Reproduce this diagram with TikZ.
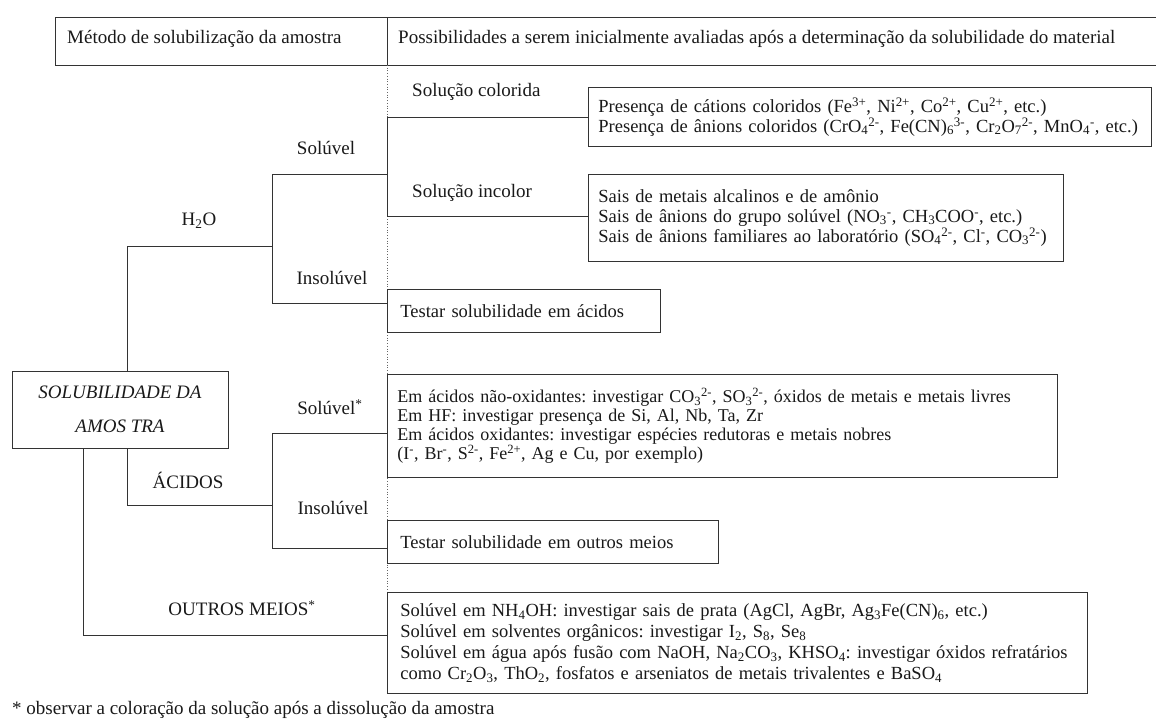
\documentclass[tikz,border=0pt]{standalone}
\usepackage{fontspec}
\setmainfont{Liberation Serif}
\frenchspacing
\begin{document}
\begin{tikzpicture}[x=1pt,y=-1pt,
  ln/.style={line width=0.8pt,draw=black!80},
  dotln/.style={line width=0.7pt,draw=black!60,dotted},
  txt/.style={font=\fontsize{19}{21}\selectfont,inner sep=0pt,text=black!90},
  lbl/.style={txt,anchor=center},
  infobox/.style={ln,fill=white,anchor=north west,align=left,inner xsep=10pt,inner ysep=0pt,
     font=\fontsize{18.5}{20}\selectfont,text=black!90}
]
\useasboundingbox (0,0) rectangle (1156,721);
% header
\coordinate (hTL) at (55,17);
\coordinate (hBL) at (55,65);
\coordinate (hTR) at (1156,17);
\coordinate (hBR) at (1156,65);
\coordinate (hDT) at (387,17);
\coordinate (hDB) at (387,65);
\draw[ln] (hTR) -- (hTL) -- (hBL) -- (hBR);
\draw[ln] (hDT) -- (hDB);
\node[txt,anchor=west] (hmet) at (67,39) {Método de solubilização da amostra};
\node[txt,anchor=west] (hpos) at (398,39) {Possibilidades a serem inicialmente avaliadas após a determinação da solubilidade do material};
% dotted separator
\coordinate (dotEnd) at (387,592);
\draw[dotln] (hDB) -- (dotEnd);

% root
\node[ln,fill=white,minimum width=216pt,minimum height=77pt,inner sep=0pt,align=center,
  font=\fontsize{19}{34}\selectfont\itshape,text=black!90] (root) at (120,409.5)
  {SOLUBILIDADE DA\\AMOS TRA};

% branch coordinates
\coordinate (h2oL) at (127,246);
\coordinate (h2oR) at (272,246);
\coordinate (sol1) at (272,174);
\coordinate (ins1) at (272,303);
\coordinate (splitT) at (387,117);
\coordinate (splitB) at (387,216);
\coordinate (acL) at (127,505);
\coordinate (acR) at (272,505);
\coordinate (sol2) at (272,433);
\coordinate (ins2) at (272,548);
\coordinate (ouL) at (83,635);

% boxes
\node[infobox,minimum width=563pt,minimum height=59pt,text width=543pt] (bcol) at (588,87)
 {Presença de cátions coloridos (Fe\textsuperscript{3+}, Ni\textsuperscript{2+}, Co\textsuperscript{2+}, Cu\textsuperscript{2+}, etc.)\\
  Presença de ânions coloridos (CrO\textsubscript{4}\textsuperscript{2-}, Fe(CN)\textsubscript{6}\textsuperscript{3-}, Cr\textsubscript{2}O\textsubscript{7}\textsuperscript{2-}, MnO\textsubscript{4}\textsuperscript{-}, etc.)};
\node[infobox,minimum width=475pt,minimum height=87pt,text width=455pt] (binc) at (588,174)
 {Sais de metais alcalinos e de amônio\\
  Sais de ânions do grupo solúvel (NO\textsubscript{3}\textsuperscript{-}, CH\textsubscript{3}COO\textsuperscript{-}, etc.)\\
  Sais de ânions familiares ao laboratório (SO\textsubscript{4}\textsuperscript{2-}, Cl\textsuperscript{-}, CO\textsubscript{3}\textsuperscript{2-})};
\node[infobox,minimum width=273pt,minimum height=43pt,inner xsep=13pt,text width=247pt] (btac) at (387,289)
 {Testar solubilidade em ácidos};
\node[infobox,minimum width=670pt,minimum height=103pt,text width=650pt,font=\fontsize{18}{19}\selectfont] (bacid) at (387,374)
 {Em ácidos não-oxidantes: investigar CO\textsubscript{3}\textsuperscript{2-}, SO\textsubscript{3}\textsuperscript{2-}, óxidos de metais e metais livres\\
  Em HF: investigar presença de Si, Al, Nb, Ta, Zr\\
  Em ácidos oxidantes: investigar espécies redutoras e metais nobres\\
  (I\textsuperscript{-}, Br\textsuperscript{-}, S\textsuperscript{2-}, Fe\textsuperscript{2+}, Ag e Cu, por exemplo)};
\node[infobox,minimum width=331pt,minimum height=43pt,inner xsep=13pt,text width=305pt] (btou) at (387,520)
 {Testar solubilidade em outros meios};
\node[infobox,minimum width=700pt,minimum height=101pt,inner xsep=13pt,text width=674pt,font=\fontsize{18.5}{21}\selectfont] (bout) at (387,592)
 {Solúvel em NH\textsubscript{4}OH: investigar sais de prata (AgCl, AgBr, Ag\textsubscript{3}Fe(CN)\textsubscript{6}, etc.)\\
  Solúvel em solventes orgânicos: investigar I\textsubscript{2}, S\textsubscript{8}, Se\textsubscript{8}\\
  Solúvel em água após fusão com NaOH, Na\textsubscript{2}CO\textsubscript{3}, KHSO\textsubscript{4}: investigar óxidos refratários\\
  como Cr\textsubscript{2}O\textsubscript{3}, ThO\textsubscript{2}, fosfatos e arseniatos de metais trivalentes e BaSO\textsubscript{4}};

% connectors
\draw[ln] (root.north -| h2oL) -- (h2oL) -- (h2oR);
\draw[ln] (sol1) -- (ins1);
\draw[ln] (sol1) -- (sol1 -| splitT);
\draw[ln] (splitT) -- (splitB);
\draw[ln] (splitT) -- (splitT -| bcol.west);
\draw[ln] (splitB) -- (splitB -| binc.west);
\draw[ln] (ins1) -- (ins1 -| btac.west);
\draw[ln] (root.south -| acL) -- (acL) -- (acR);
\draw[ln] (sol2) -- (ins2);
\draw[ln] (sol2) -- (sol2 -| bacid.west);
\draw[ln] (ins2) -- (ins2 -| btou.west);
\draw[ln] (root.south -| ouL) -- (ouL) -- (ouL -| bout.west);

% labels
\node[lbl] (lh2o) at (199,221) {H\textsubscript{2}O};
\node[lbl] (lsol1) at (326,148) {Solúvel};
\node[lbl] (lins1) at (332,278) {Insolúvel};
\node[txt,anchor=west] (lcol) at (412,92) {Solução colorida};
\node[txt,anchor=west] (linc) at (412,193) {Solução incolor};
\node[lbl] (lsol2) at (330,407) {Solúvel\textsuperscript{*}};
\node[lbl] (lac) at (188,480) {ÁCIDOS};
\node[lbl] (lins2) at (333,508) {Insolúvel};
\node[lbl] (lou) at (242,608) {OUTROS MEIOS\textsuperscript{*}};

% footnote
\node[txt,anchor=west] (fn) at (12,710) {* observar a coloração da solução após a dissolução da amostra};
\end{tikzpicture}
\end{document}
